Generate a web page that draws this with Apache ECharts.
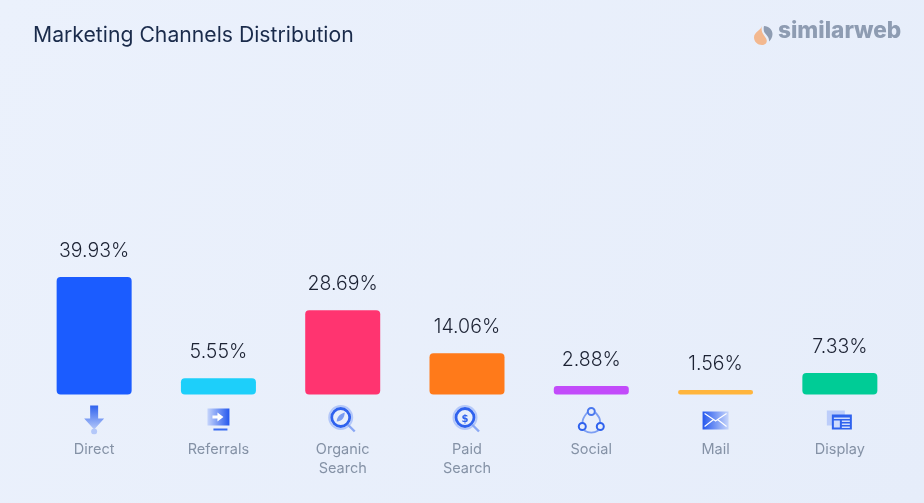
<!DOCTYPE html>
<html>
<head>
<meta charset="utf-8">
<style>
html, body { margin: 0; padding: 0; width: 924px; height: 503px; overflow: hidden; }
#chart1 { width: 924px; height: 503px; }
</style>
<script src="https://cdn.jsdelivr.net/npm/echarts@6/dist/echarts.min.js"></script>
</head>
<body>
<div id="chart1"></div>
<script>
var categories = ['Direct', 'Referrals', 'Organic\nSearch', 'Paid\nSearch', 'Social', 'Mail', 'Display'];
var shareValues = [39.93, 5.55, 28.69, 14.06, 2.88, 1.56, 7.33];
var barColors = ['#1b5cff', '#1dcffa', '#ff3470', '#ff7a1a', '#c24bfa', '#ffb53d', '#00cc96'];

var FONT = 'Inter, "Noto Sans", sans-serif';

// icons above the category names, drawn in a 36x32 box
var grad = '<defs><linearGradient id="a" x1="0" y1="0" x2="0" y2="1"><stop offset="0" stop-color="#2f62ee"/><stop offset="1" stop-color="#b4c8f9"/></linearGradient>' +
    '<linearGradient id="b" x1="0" y1="0" x2="1" y2="0"><stop offset="0" stop-color="#c6d5fb"/><stop offset="1" stop-color="#2558ee"/></linearGradient>' +
    '<linearGradient id="c" x1="0" y1="0" x2="1" y2="0"><stop offset="0" stop-color="#2558ee"/><stop offset="1" stop-color="#c6d5fb"/></linearGradient></defs>';
var lens = '<circle cx="16" cy="15" r="11.500" fill="none" stroke="#b4c8f9" stroke-width="2"/>' +
    '<circle cx="16" cy="15" r="9" fill="none" stroke="#2f62ee" stroke-width="2.8"/>' +
    '<line x1="23" y1="22" x2="30" y2="29" stroke="#8aa8f4" stroke-width="2.4"/>';
var icons = [
    '<path d="M14 3h8v13h6l-10 11-10-11h6z" fill="url(#a)"/><circle cx="18" cy="29" r="3" fill="#b4c8f9"/>',
    '<rect x="7" y="6" width="22" height="17" fill="url(#b)"/><path d="M12 13h5v-3l6 4.500-6 4.500v-3h-5z" fill="#fff"/><rect x="13" y="26" width="14" height="2" fill="#3a6cf0"/>',
    lens + '<path d="M12 19c0-5 4-8 8-9 0 5-3 9-8 9z" fill="#7b9df2"/>',
    lens + '<text x="16" y="19.500" text-anchor="middle" font-size="10" font-weight="700" font-family="DejaVu Sans" fill="#2f62ee">$</text>',
    '<path d="M11 24c-3-3-2-8 3-14M22 10c5 5 6 10 3 14M11 28c5 3 9 3 14 0" fill="none" stroke="#7c9ef3" stroke-width="1.800"/><circle cx="18" cy="9" r="3.500" fill="#e8eefb" stroke="#4a78ee" stroke-width="2"/><circle cx="9" cy="24" r="3.500" fill="#e8eefb" stroke="#2f62ee" stroke-width="2"/><circle cx="27" cy="24" r="3.500" fill="#e8eefb" stroke="#2f62ee" stroke-width="2"/>',
    '<rect x="5" y="9" width="26" height="18" fill="url(#c)"/><path d="M7 24l9-7-9-6M29 24l-9-7 9-6M16 17l2 1.500 2-1.500" fill="none" stroke="#fff" stroke-width="1.200"/>',
    '<rect x="5" y="8" width="18" height="15" fill="#bccdfa"/><rect x="10" y="12" width="20" height="15" fill="#2f62ee"/><rect x="12" y="15" width="16" height="1.500" fill="#cfdcfd"/><rect x="12" y="18" width="6" height="7" fill="#cfdcfd"/><rect x="20" y="18" width="8" height="1.500" fill="#cfdcfd"/><rect x="20" y="21" width="8" height="1.500" fill="#cfdcfd"/><rect x="20" y="24" width="8" height="1.500" fill="#cfdcfd"/>'
];
var logoMark = '<svg xmlns="http://www.w3.org/2000/svg" width="19" height="20" viewBox="0 0 19 20">' +
    '<path d="M8 1C7 5 0 7 0 12.500 0 16.500 3.500 20 8 20c3.500 0 5.500-2.500 4.500-5.500C11.500 11 6 8 8 1z" fill="#f3b88f"/>' +
    '<path d="M10 1c5 0 8.500 4 8.500 8 0 3-1.500 6-3.500 7.500.5-4-2.500-6.500-4.500-9-1-2-1-4.500-.5-6.500z" fill="#8e9cb2"/></svg>';

function svgUrl(svg) {
    return 'data:image/svg+xml;charset=utf-8,' + encodeURIComponent(svg);
}
function iconUrl(body) {
    return svgUrl('<svg xmlns="http://www.w3.org/2000/svg" width="36" height="32" viewBox="0 0 36 32">' + grad + body + '</svg>');
}

var richLabels = {
    s: { height: 6, lineHeight: 6 },
    t: { color: '#8592a6', fontSize: 14.5, lineHeight: 19, fontFamily: FONT, align: 'center' }
};
for (var i = 0; i < icons.length; i++) {
    richLabels['i' + i] = {
        width: 36, height: 32, align: 'center',
        backgroundColor: { image: iconUrl(icons[i]) }
    };
}

var chart1 = echarts.init(document.getElementById('chart1'), null, { renderer: 'canvas' });

var option = {
    animation: false,
    backgroundColor: {
        type: 'linear', x: 0, y: 0, x2: 1, y2: 1,
        colorStops: [{ offset: 0, color: '#ebf1fc' }, { offset: 1, color: '#e6edfa' }]
    },
    title: {
        text: 'Marketing Channels Distribution',
        left: 28, top: 20,
        textStyle: { color: '#1a2b4b', fontSize: 21.2, fontWeight: 400, fontFamily: FONT }
    },
    grid: { left: 32, right: 22, top: 100.5, height: 294 },
    xAxis: {
        type: 'category',
        data: categories,
        axisLine: { show: false },
        axisTick: { show: false },
        axisLabel: {
            interval: 0,
            margin: 8,
            formatter: function (value, idx) {
                var lines = value.split('\n').map(function (s) { return '{t|' + s + '}'; });
                return '{i' + idx + '|}\n{s|}\n' + lines.join('\n');
            },
            rich: richLabels
        }
    },
    yAxis: { type: 'value', min: 0, max: 100, show: false },
    series: [{
        type: 'bar',
        barWidth: 75,
        data: shareValues.map(function (v, idx) {
            return { value: v, itemStyle: { color: barColors[idx], borderRadius: v < 3 ? 3 : 4 } };
        }),
        label: {
            show: true,
            position: 'top',
            distance: 16,
            color: '#1c2233',
            fontSize: 19.5,
            fontWeight: 300,
            fontFamily: FONT,
            formatter: function (p) { return p.value.toFixed(2) + '%'; }
        }
    }],
    graphic: [
        { type: 'image', left: 754, top: 25, style: { image: svgUrl(logoMark), width: 19, height: 20 } },
        { type: 'text', left: 778, top: 20, style: { text: 'similarweb', fill: '#8e9cb2', fontSize: 22.6, fontWeight: 800, fontFamily: 'Inter, sans-serif' } }
    ]
};
chart1.setOption(option, true);
</script>
</body>
</html>
